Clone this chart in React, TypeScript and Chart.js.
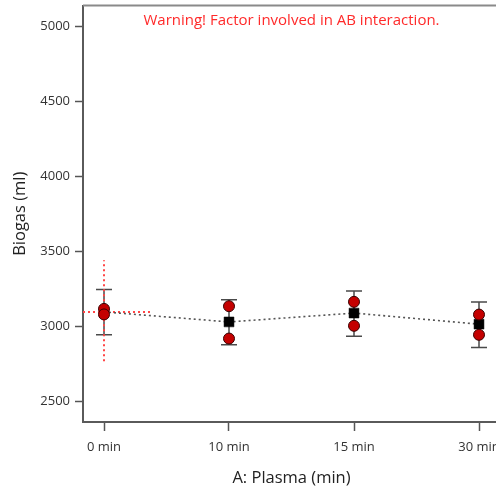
import React, { useEffect, useRef } from "react";
import { Chart, registerables } from "chart.js";

Chart.register(...registerables);

const categories = ["0 min", "10 min", "15 min", "30 min"];
const meanValues = [3095, 3028, 3087, 3013];
const ciLow = [2942, 2876, 2932, 2858];
const ciHigh = [3245, 3176, 3234, 3161];
const obsRun1 = [3115, 3133, 3162, 3077];
const obsRun2 = [3078, 2917, 3002, 2942];
const showMeanMarker = [false, true, true, true];
const lsdLow = 2765;
const lsdHigh = 3440;
const lsdHalfWidth = 0.39;
const yTicks = [2500, 3000, 3500, 4000, 4500, 5000];
const yMin = 2360;
const yMax = 5140;
const xMin = -0.168;
const xMax = 3.168;
const warningText = "Warning! Factor involved in AB interaction.";
const xTitle = "A: Plasma (min)";
const yTitle = "Biogas (ml)";

const FONT = "'Open Sans', 'Noto Sans', sans-serif";

const extrasPlugin = {
  id: "extras",
  beforeDatasetsDraw(chart: any) {
    const { ctx, chartArea, scales } = chart;
    const xs = scales.x;
    const ys = scales.y;
    ctx.save();
    // top border
    ctx.strokeStyle = "#8a8a8a";
    ctx.lineWidth = 2;
    ctx.beginPath();
    ctx.moveTo(chartArea.left, chartArea.top);
    ctx.lineTo(chartArea.right + 20, chartArea.top);
    ctx.stroke();
    // error bars
    ctx.strokeStyle = "#4a4a4a";
    ctx.lineWidth = 1.5;
    for (let i = 0; i < categories.length; i++) {
      const px = xs.getPixelForValue(i);
      const pl = ys.getPixelForValue(ciLow[i]);
      const ph = ys.getPixelForValue(ciHigh[i]);
      ctx.beginPath();
      ctx.moveTo(px, pl);
      ctx.lineTo(px, ph);
      ctx.moveTo(px - 8, pl);
      ctx.lineTo(px + 8, pl);
      ctx.moveTo(px - 8, ph);
      ctx.lineTo(px + 8, ph);
      ctx.stroke();
    }
    // warning text
    ctx.fillStyle = "#ff2a2a";
    ctx.font = `15px ${FONT}`;
    ctx.textAlign = "center";
    ctx.textBaseline = "middle";
    ctx.fillText(warningText, (chartArea.left + chartArea.right) / 2, chartArea.top + 15);
    ctx.restore();
  },
};

export default function App() {
  const ref = useRef<HTMLCanvasElement | null>(null);
  useEffect(() => {
    if (!ref.current) return;
    Chart.defaults.font.family = FONT;
    const meanPts = meanValues.map((v, i) => ({ x: i, y: v }));
    const obsPts = [
      ...obsRun1.map((v, i) => ({ x: i, y: v })),
      ...obsRun2.map((v, i) => ({ x: i, y: v })),
    ];
    const chart = new Chart(ref.current, {
      type: "scatter",
      data: {
        datasets: [
          {
            label: "obs",
            data: obsPts,
            pointStyle: "circle",
            pointRadius: 5.5,
            backgroundColor: "#c40000",
            borderColor: "#3a0000",
            borderWidth: 1,
            showLine: false,
            order: 0,
          },
          {
            label: "mean",
            data: meanPts,
            showLine: true,
            borderColor: "#555555",
            borderWidth: 1.6,
            borderDash: [2, 3],
            pointStyle: "rect",
            pointRadius: showMeanMarker.map((s) => (s ? 7 : 0)),
            pointBackgroundColor: "#000000",
            pointBorderColor: "#000000",
            pointBorderWidth: 0.5,
            order: 1,
          },
          {
            label: "lsdV",
            data: [
              { x: 0, y: lsdLow },
              { x: 0, y: lsdHigh },
            ],
            showLine: true,
            borderColor: "#ff4545",
            borderWidth: 2,
            borderDash: [2, 3],
            pointRadius: 0,
            order: 2,
          },
          {
            label: "lsdH",
            data: [
              { x: xMin, y: meanValues[0] },
              { x: lsdHalfWidth, y: meanValues[0] },
            ],
            showLine: true,
            borderColor: "#ff4545",
            borderWidth: 2,
            borderDash: [2, 3],
            pointRadius: 0,
            order: 2,
          },
        ],
      },
      options: {
        animation: false,
        responsive: true,
        maintainAspectRatio: false,
        layout: { padding: { left: 0, top: 3, right: 12, bottom: 0 } },
        plugins: {
          legend: { display: false },
          tooltip: { enabled: false },
        },
        scales: {
          x: {
            type: "linear",
            min: xMin,
            max: xMax,
            afterBuildTicks: (s: any) => {
              s.ticks = categories.map((_, i) => ({ value: i }));
            },
            afterFit: (s: any) => {
              s.height = 66;
              s.paddingLeft = 0;
              s.paddingRight = 0;
            },
            ticks: {
              autoSkip: false,
              maxRotation: 0,
              padding: 8,
              color: "#333333",
              font: { size: 13 },
              callback: (v: any) => categories[v] ?? "",
            },
            grid: {
              drawOnChartArea: false,
              drawTicks: true,
              tickLength: 9,
              tickWidth: 1.5,
              tickColor: "#555555",
            },
            border: { display: true, color: "#5a5a5a", width: 2 },
            title: {
              display: true,
              text: xTitle,
              color: "#222222",
              font: { size: 16.5 },
              padding: { top: 0, bottom: 0 },
            },
          },
          y: {
            type: "linear",
            min: yMin,
            max: yMax,
            afterBuildTicks: (s: any) => {
              s.ticks = yTicks.map((v) => ({ value: v }));
            },
            afterFit: (s: any) => {
              s.width = 83;
              s.paddingTop = 0;
              s.paddingBottom = 0;
            },
            ticks: {
              padding: 5,
              color: "#333333",
              font: { size: 13 },
              callback: (v: any) => String(v),
            },
            grid: {
              drawOnChartArea: false,
              drawTicks: true,
              tickLength: 8,
              tickWidth: 1.5,
              tickColor: "#555555",
            },
            border: { display: true, color: "#5a5a5a", width: 2 },
            title: {
              display: true,
              text: yTitle,
              color: "#222222",
              font: { size: 16.5 },
              padding: { top: 10, bottom: 0 },
            },
          },
        },
      },
      plugins: [extrasPlugin],
    } as any);
    return () => chart.destroy();
  }, []);
  return (
    <div
      style={{
        position: "fixed",
        left: 0,
        top: 0,
        width: 496,
        height: 488,
        overflow: "hidden",
        background: "#ffffff",
      }}
    >
      <div style={{ width: 512, height: 490, position: "absolute", left: 0, top: -2 }}>
        <canvas ref={ref} />
      </div>
    </div>
  );
}
